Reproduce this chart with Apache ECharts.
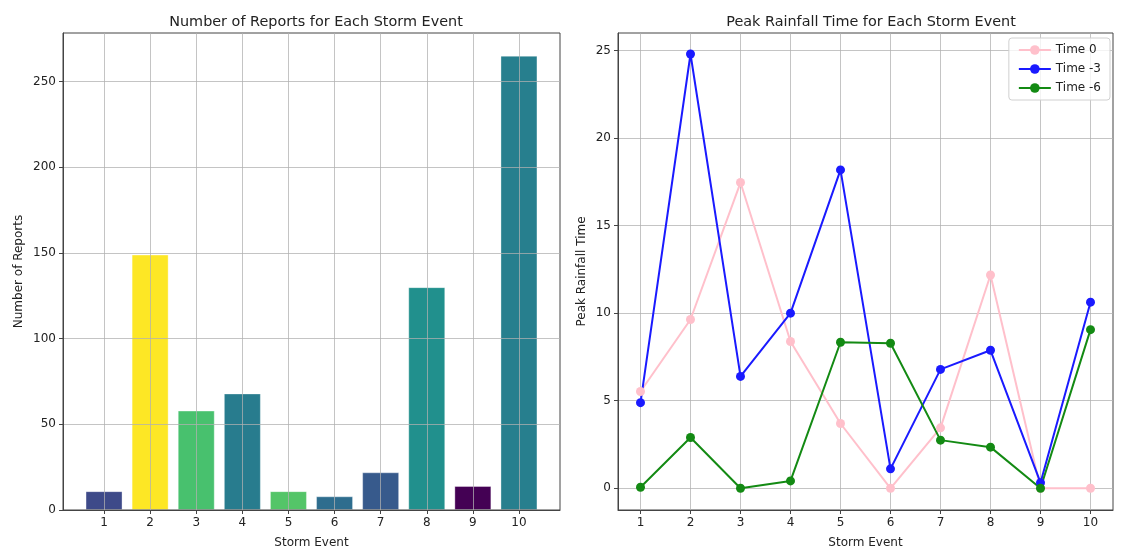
<!DOCTYPE html>
<html>
<head>
<meta charset="utf-8">
<title>Storm Events</title>
<script src="https://cdn.jsdelivr.net/npm/echarts@6/dist/echarts.min.js"></script>
<style>
  html, body { margin: 0; padding: 0; background: #fff; }
  #chart { width: 1123px; height: 550px; }
</style>
</head>
<body>
<div id="chart"></div>
<script>
// Storm events 1..10
const stormEvents = [1, 2, 3, 4, 5, 6, 7, 8, 9, 10];

// Number of reports per storm event
const reportCounts = [11, 149, 58, 68, 11, 8, 22, 130, 14, 265];

// Peak rainfall time per storm event, for three lead times
const peakTime0 = [5.53, 9.64, 17.46, 8.38, 3.70, 0.0, 3.45, 12.18, 0.0, 0.0];
const peakTimeMinus3 = [4.89, 24.8, 6.39, 10.0, 18.18, 1.11, 6.79, 7.88, 0.32, 10.63];
const peakTimeMinus6 = [0.06, 2.90, 0.0, 0.42, 8.34, 8.28, 2.75, 2.35, 0.0, 9.06];

// Tick labels
const reportTicks = [0, 50, 100, 150, 200, 250];
const rainTicks = [0, 5, 10, 15, 20, 25];

// Viridis shades for the bars, one per event
const barColors = ['#3e4a89', '#fde725', '#48c16e', '#287c8e', '#54c568',
                   '#2e6d8e', '#375a8c', '#21908d', '#440154', '#277f8e'];

const font = 'DejaVu Sans';
const textColor = '#222';
const gridColor = 'rgba(176,176,176,0.75)';
const frameColor = '#444';

function valueAxisX(gridIndex, min, max, z) {
  return {
    type: 'value', gridIndex, min, max, z,
    name: 'Storm Event', nameLocation: 'middle', nameGap: 27,
    nameTextStyle: { fontFamily: font, fontSize: 12, color: textColor },
    axisLine: { show: true, onZero: false, lineStyle: { color: frameColor, width: 1 } },
    axisTick: { show: true, customValues: stormEvents, length: 4, lineStyle: { color: frameColor } },
    axisLabel: { customValues: stormEvents, fontFamily: font, fontSize: 12, color: textColor, margin: 7 },
    splitLine: { show: true, lineStyle: { color: gridColor, width: 1 } }
  };
}

function valueAxisY(gridIndex, min, max, ticks, name, gap, z) {
  return {
    type: 'value', gridIndex, min, max, z,
    name, nameLocation: 'middle', nameGap: gap,
    nameTextStyle: { fontFamily: font, fontSize: 12, color: textColor },
    axisLine: { show: true, lineStyle: { color: frameColor, width: 1 } },
    axisTick: { show: true, customValues: ticks, length: 4, lineStyle: { color: frameColor } },
    axisLabel: { customValues: ticks, fontFamily: font, fontSize: 12, color: textColor, margin: 7 },
    splitLine: { show: true, lineStyle: { color: gridColor, width: 1 } }
  };
}

const chart = echarts.init(document.getElementById('chart'), null, { renderer: 'canvas' });

const barData = stormEvents.map((e, i) => ({
  value: [e, reportCounts[i]],
  itemStyle: { color: barColors[i] }
}));

function pairs(values) {
  return stormEvents.map((e, i) => [e, values[i]]);
}

function lineSeries(name, values, color) {
  return {
    type: 'line', name, data: pairs(values),
    xAxisIndex: 1, yAxisIndex: 1,
    symbol: 'circle', symbolSize: 9, showSymbol: true,
    lineStyle: { color, width: 2 },
    itemStyle: { color },
    z: 3
  };
}

chart.setOption({
  animation: false,
  backgroundColor: '#fff',
  title: [
    { text: 'Number of Reports for Each Storm Event', left: 311, top: 10, textAlign: 'center',
      textStyle: { fontFamily: font, fontSize: 14.4, fontWeight: 'normal', color: textColor } },
    { text: 'Peak Rainfall Time for Each Storm Event', left: 866, top: 10, textAlign: 'center',
      textStyle: { fontFamily: font, fontSize: 14.4, fontWeight: 'normal', color: textColor } }
  ],
  grid: [
    { left: 63, right: 563, top: 33, bottom: 40, show: true, borderColor: frameColor, borderWidth: 1, z: 5,
      outerBoundsMode: 'none', containLabel: false },
    { left: 618, right: 10, top: 33, bottom: 40, show: true, borderColor: frameColor, borderWidth: 1,
      outerBoundsMode: 'none', containLabel: false }
  ],
  legend: {
    orient: 'vertical', right: 13, top: 38,
    data: ['Time 0', 'Time -3', 'Time -6'],
    itemWidth: 32, itemHeight: 12, itemGap: 7,
    padding: [6, 9, 6, 9],
    borderColor: '#d0d0d0', borderWidth: 1, borderRadius: 3,
    backgroundColor: 'rgba(255,255,255,0.8)',
    textStyle: { fontFamily: font, fontSize: 12, color: textColor }
  },
  xAxis: [
    valueAxisX(0, 0.11, 10.89, 5),
    valueAxisX(1, 0.55, 10.45, 0)
  ],
  yAxis: [
    valueAxisY(0, 0, 278.25, reportTicks, 'Number of Reports', 38, 5),
    valueAxisY(1, -1.24, 26.0, rainTicks, 'Peak Rainfall Time', 30, 0)
  ],
  series: [
    {
      type: 'bar', data: barData, xAxisIndex: 0, yAxisIndex: 0,
      barWidth: 37,
      itemStyle: { borderColor: 'rgba(255,255,255,0.35)', borderWidth: 1 },
      z: 2
    },
    lineSeries('Time 0', peakTime0, '#ffc0cb'),
    lineSeries('Time -3', peakTimeMinus3, '#1a1aff'),
    lineSeries('Time -6', peakTimeMinus6, '#138a13')
  ]
});
</script>
</body>
</html>
